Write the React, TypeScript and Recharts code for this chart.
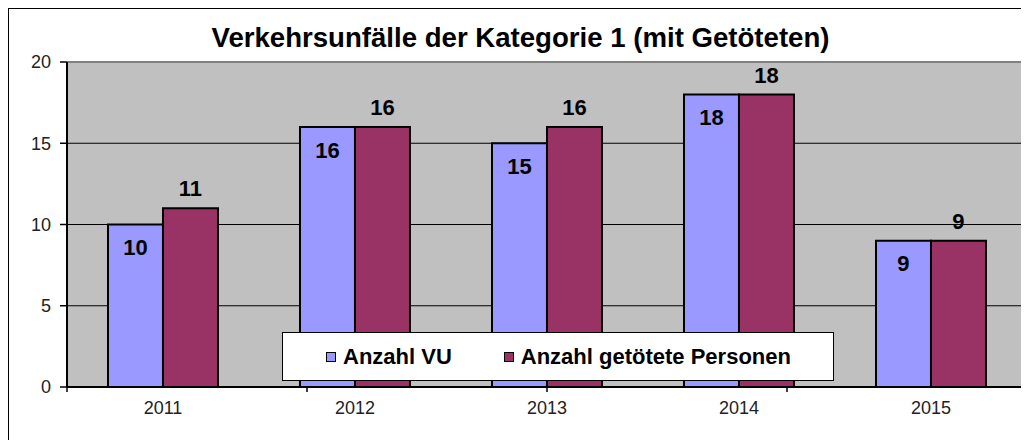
import React from 'react';
import { BarChart, Bar, XAxis, YAxis, CartesianGrid, Legend, LabelList, ReferenceArea } from 'recharts';

const years = ['2011', '2012', '2013', '2014', '2015'];
const anzahlVU = [10, 16, 15, 18, 9];
const anzahlGetoetete = [11, 16, 16, 18, 9];
const yTicks = [0, 5, 10, 15, 20];
const boundaryTicks = [0, 1, 2, 3, 4, 5];

const data = years.map((y, i) => ({ year: y, vu: anzahlVU[i], tot: anzahlGetoetete[i] }));

const FONT = '"Liberation Sans", Arial, Helvetica, sans-serif';

const PlotBorder = (props: any) => {
  const { x, y, width, height } = props;
  return (
    <path
      d={`M${x},${y} H${x + width} V${y + height}`}
      fill="none"
      stroke="#808080"
      strokeWidth={2}
    />
  );
};

const renderLegend = (props: any) => {
  const payload = props.payload || [];
  return (
    <div
      style={{
        width: 552,
        height: 49,
        boxSizing: 'border-box',
        border: '1px solid #000',
        background: '#fff',
        display: 'flex',
        alignItems: 'center',
        paddingLeft: 43,
        fontFamily: FONT,
        fontWeight: 'bold',
        fontSize: 22,
        color: '#000',
      }}
    >
      {payload.map((entry: any, i: number) => (
        <span key={i} style={{ display: 'flex', alignItems: 'center', marginRight: i === 0 ? 52 : 0 }}>
          <span
            style={{
              display: 'inline-block',
              width: 8,
              height: 8,
              background: entry.color,
              border: '1.5px solid #000',
              marginRight: 7,
            }}
          />
          <span>{entry.value}</span>
        </span>
      ))}
    </div>
  );
};

export default function App() {
  return (
    <div style={{ position: 'relative', width: 1021, height: 432, overflow: 'hidden', background: '#fff' }}>
      <style>{`html,body{overflow:hidden}`}</style>
      <div
        style={{
          position: 'absolute',
          left: 0,
          top: 0,
          width: 1040,
          height: 450,
          border: '1px solid #000',
          boxSizing: 'border-box',
          pointerEvents: 'none',
          zIndex: 2,
        }}
      />
      <div
        style={{
          position: 'absolute',
          left: 2,
          top: 16,
          width: 1021,
          textAlign: 'center',
          fontFamily: FONT,
          fontWeight: 'bold',
          fontSize: 27.6,
          lineHeight: '27px',
          color: '#000',
          zIndex: 3,
        }}
      >
        Verkehrsunfälle der Kategorie 1 (mit Getöteten)
      </div>
      <BarChart
        width={1021}
        height={432}
        data={data}
        margin={{ top: 54, right: 2, bottom: 22, left: 0 }}
        barCategoryGap="21.35%"
        barGap={0}
      >
        <CartesianGrid xAxisId="z" horizontal vertical={false} stroke="#000" strokeWidth={1} fill="#C0C0C0" fillOpacity={1} />
        <XAxis
          xAxisId="a"
          type="number"
          domain={[0, 5]}
          ticks={boundaryTicks}
          height={1}
          axisLine={{ stroke: '#000', strokeWidth: 2 }}
          tickLine={{ stroke: '#000', strokeWidth: 1.5 }}
          tickSize={5}
          tickFormatter={() => ''}
          allowDataOverflow
        />
        <XAxis
          xAxisId="z"
          dataKey="year"
          height={30}
          axisLine={false}
          tickLine={false}
          tickSize={6}
          tickMargin={7}
          tick={{ fill: '#222', fontSize: 18, fontFamily: FONT }}
        />
        <YAxis
          width={59}
          domain={[0, 20]}
          ticks={yTicks}
          interval={0}
          axisLine={{ stroke: '#000', strokeWidth: 2 }}
          tickLine={{ stroke: '#000', strokeWidth: 1.5 }}
          tickSize={7}
          tickMargin={9}
          tick={{ fill: '#222', fontSize: 18, fontFamily: FONT }}
        />
        <ReferenceArea xAxisId="z" y1={0} y2={20} shape={PlotBorder} ifOverflow="visible" />
        <Legend
          verticalAlign="middle"
          align="center"
          content={renderLegend}
          wrapperStyle={{ position: 'absolute', left: 274, top: 324, width: 552, height: 49 }}
        />
        <Bar xAxisId="z" dataKey="vu" name="Anzahl VU" fill="#9999FF" stroke="#000" strokeWidth={2} isAnimationActive={false}>
          <LabelList
            dataKey="vu"
            position="insideTop"
            offset={15}
            fill="#000"
            fontSize={22}
            fontWeight="bold"
            fontFamily={FONT}
          />
        </Bar>
        <Bar xAxisId="z" dataKey="tot" name="Anzahl getötete Personen" fill="#993366" stroke="#000" strokeWidth={2} isAnimationActive={false}>
          <LabelList
            dataKey="tot"
            position="top"
            offset={12}
            fill="#000"
            fontSize={22}
            fontWeight="bold"
            fontFamily={FONT}
          />
        </Bar>
      </BarChart>
    </div>
  );
}
